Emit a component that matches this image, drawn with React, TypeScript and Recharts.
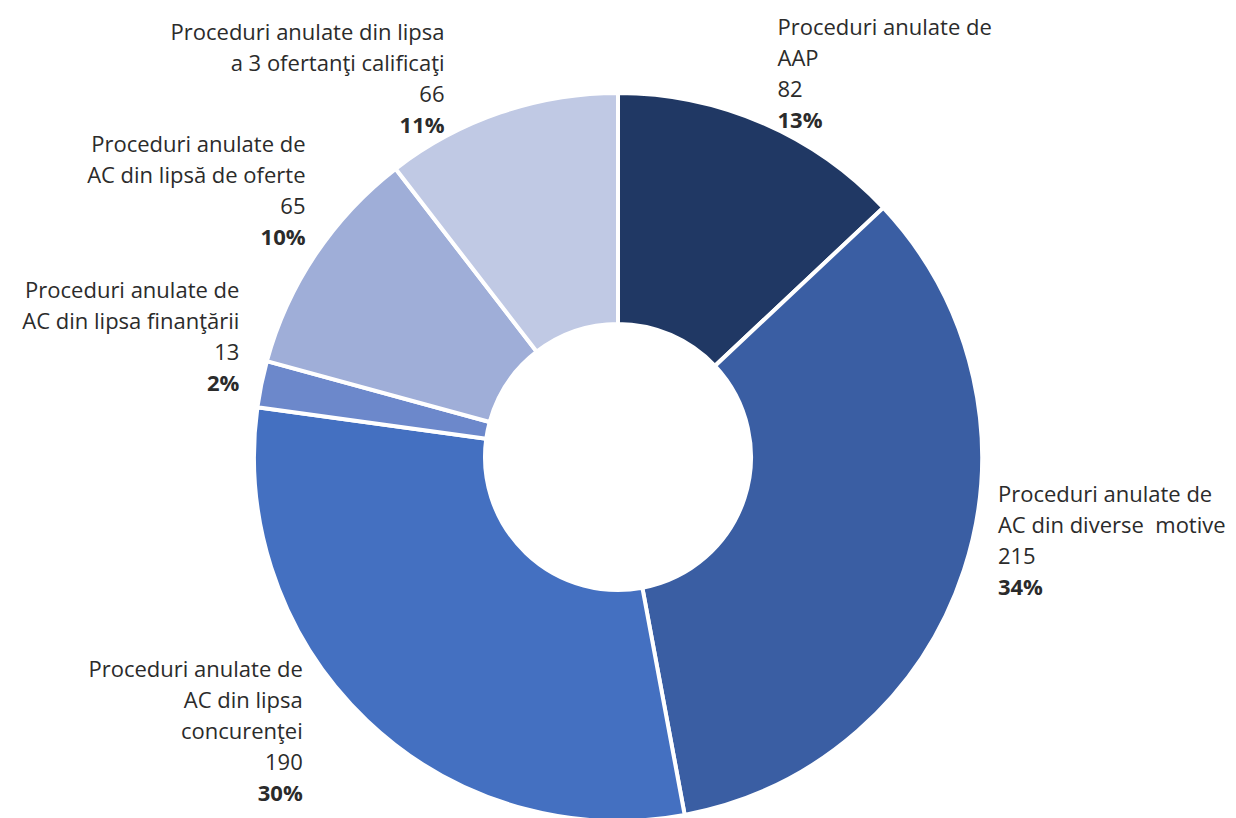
import React from "react";
import { PieChart, Pie, Cell } from "recharts";

const categories = [
  "Proceduri anulate de\nAAP",
  "Proceduri anulate de\nAC din diverse\u00a0\u00a0motive",
  "Proceduri anulate de\nAC din lipsa\nconcurenţei",
  "Proceduri anulate de\nAC din lipsa finanţării",
  "Proceduri anulate de\nAC din lipsă de oferte",
  "Proceduri anulate din lipsa\na 3 ofertanţi calificaţi",
];
const values = [82, 215, 190, 13, 65, 66];
const percentLabels = ["13%", "34%", "30%", "2%", "10%", "11%"];
const colors = ["#203864", "#3A5EA3", "#4470C1", "#6C88CB", "#9FAED8", "#C0C9E4"];

// label placement relative to the slice's outer mid-point
const labelLayout = [
  { dx: 15, dy: -88, anchor: "start" },
  { dx: 34, dy: -68, anchor: "start" },
  { dx: -64, dy: -43, anchor: "end" },
  { dx: -22, dy: -86, anchor: "end" },
  { dx: -10, dy: -102, anchor: "end" },
  { dx: -56, dy: -72, anchor: "end" },
];

const data = categories.map((c, i) => ({ name: c, value: values[i] }));

const RAD = Math.PI / 180;
const LINE = 31;

const renderLabel = (props: any) => {
  const { cx, cy, midAngle, outerRadius, index } = props;
  const x0 = cx + outerRadius * Math.cos(-midAngle * RAD);
  const y0 = cy + outerRadius * Math.sin(-midAngle * RAD);
  const lay = labelLayout[index];
  const x = x0 + lay.dx;
  const y = y0 + lay.dy;
  const lines = categories[index].split("\n");
  return (
    <text
      x={x}
      y={y}
      textAnchor={lay.anchor}
      fill="#2b2b2b"
      fontSize={22}
      fontFamily="'Open Sans', sans-serif"
    >
      {lines.map((l, k) => (
        <tspan key={k} x={x} y={y + k * LINE}>
          {l}
        </tspan>
      ))}
      <tspan x={x} y={y + lines.length * LINE}>
        {values[index]}
      </tspan>
      <tspan x={x} y={y + (lines.length + 1) * LINE} fontWeight="bold">
        {percentLabels[index]}
      </tspan>
    </text>
  );
};

export default function App() {
  return (
    <div style={{ position: "absolute", left: 0, top: 0, width: 1236, height: 818, background: "#fff" }}>
      <PieChart width={1236} height={818} margin={{ top: 0, right: 0, bottom: 0, left: 0 }}>
        <Pie
          data={data}
          dataKey="value"
          nameKey="name"
          cx={618}
          cy={457}
          innerRadius={133}
          outerRadius={364}
          startAngle={90}
          endAngle={-270}
          stroke="#ffffff"
          strokeWidth={4}
          label={renderLabel}
          labelLine={false}
          isAnimationActive={false}
        >
          {data.map((d, i) => (
            <Cell key={i} fill={colors[i]} />
          ))}
        </Pie>
      </PieChart>
    </div>
  );
}
